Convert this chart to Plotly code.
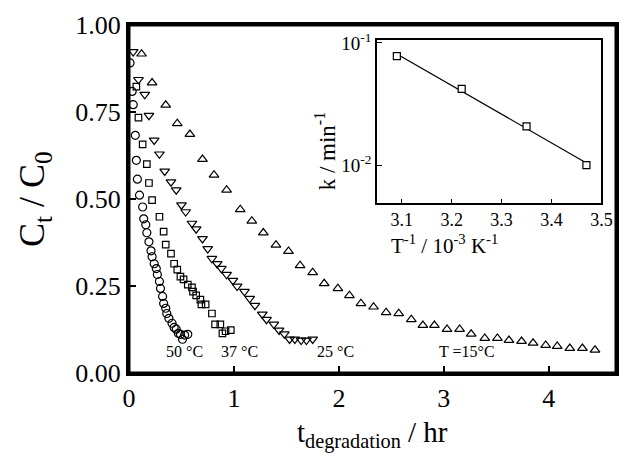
import numpy as np
import plotly.graph_objects as go

# ---- main panel data: C_t/C_0 vs t (hr) ----
t50 = [0.01, 0.03, 0.04, 0.06, 0.07, 0.08, 0.10, 0.13, 0.14, 0.16, 0.17, 0.19, 0.21, 0.22,
       0.24, 0.26, 0.27, 0.29, 0.30, 0.32, 0.33, 0.35, 0.36, 0.38, 0.41, 0.43, 0.45, 0.47,
       0.49, 0.51, 0.53, 0.56]
c50 = [0.891, 0.809, 0.771, 0.683, 0.611, 0.557, 0.511, 0.477, 0.443, 0.426, 0.403, 0.377,
       0.351, 0.334, 0.314, 0.300, 0.283, 0.263, 0.243, 0.220, 0.200, 0.186, 0.171, 0.157,
       0.143, 0.131, 0.126, 0.114, 0.111, 0.097, 0.109, 0.111]

t37 = [0.07, 0.09, 0.13, 0.17, 0.19, 0.22, 0.29, 0.33, 0.35, 0.40, 0.43, 0.46, 0.49, 0.52,
       0.56, 0.60, 0.61, 0.64, 0.68, 0.69, 0.73, 0.79, 0.82, 0.87, 0.89, 0.92, 0.97]
c37 = [0.823, 0.734, 0.657, 0.600, 0.546, 0.497, 0.449, 0.406, 0.369, 0.343, 0.314, 0.297,
       0.277, 0.269, 0.254, 0.246, 0.234, 0.223, 0.211, 0.197, 0.197, 0.171, 0.140, 0.140,
       0.114, 0.120, 0.123]

t25 = [0.04, 0.09, 0.15, 0.19, 0.24, 0.29, 0.34, 0.40, 0.45, 0.50, 0.54, 0.60, 0.64, 0.70,
       0.75, 0.79, 0.84, 0.88, 0.93, 0.99, 1.03, 1.10, 1.15, 1.20, 1.27, 1.31, 1.38, 1.43,
       1.48, 1.53, 1.58, 1.64, 1.69, 1.75]
c25 = [0.923, 0.843, 0.800, 0.740, 0.669, 0.629, 0.580, 0.549, 0.526, 0.483, 0.463, 0.430,
       0.414, 0.386, 0.357, 0.329, 0.314, 0.300, 0.283, 0.266, 0.249, 0.234, 0.214, 0.194,
       0.169, 0.154, 0.140, 0.123, 0.112, 0.097, 0.097, 0.094, 0.094, 0.097]

t15 = [0.12, 0.22, 0.35, 0.46, 0.58, 0.70, 0.81, 0.93, 1.06, 1.17, 1.28, 1.40, 1.52, 1.63,
       1.75, 1.86, 1.99, 2.10, 2.21, 2.33, 2.45, 2.57, 2.69, 2.80, 2.91, 3.03, 3.15, 3.26,
       3.39, 3.51, 3.62, 3.74, 3.85, 3.97, 4.08, 4.20, 4.32, 4.44]
c15 = [0.917, 0.834, 0.770, 0.717, 0.686, 0.614, 0.569, 0.526, 0.470, 0.437, 0.403, 0.368,
       0.350, 0.309, 0.289, 0.257, 0.243, 0.223, 0.200, 0.190, 0.174, 0.171, 0.154, 0.137,
       0.137, 0.126, 0.126, 0.112, 0.100, 0.100, 0.094, 0.091, 0.086, 0.080, 0.077, 0.071,
       0.071, 0.066]

x_ticks = [0, 1, 2, 3, 4]
y_ticks = [0.00, 0.25, 0.50, 0.75, 1.00]
X_RANGE = [0, 4.64]
Y_RANGE = [0, 1.0]

# ---- inset data: Arrhenius plot ----
inv_T = [3.09, 3.22, 3.35, 3.47]
k_rate = [0.078, 0.042, 0.0207, 0.0100]
inset_x_ticks = [3.1, 3.2, 3.3, 3.4, 3.5]
inset_y_ticks = [0.01, 0.1]
inset_y_labels = ["10<sup>-2</sup>", "10<sup>-1</sup>"]

labels = ["50 \u00b0C", "37 \u00b0C", "25 \u00b0C", "T =15\u00b0C"]
label_x = [0.53, 1.05, 1.97, 3.22]
label_y = [0.063, 0.063, 0.063, 0.063]

FONT = "Liberation Serif"

fig = go.Figure()

def open_marker(symbol, size):
    return dict(symbol=symbol, size=size, color="black", line=dict(width=1.2))

fig.add_trace(go.Scatter(x=t50, y=c50, mode="markers", marker=open_marker("circle-open", 8),
                         xaxis="x", yaxis="y", showlegend=False))
fig.add_trace(go.Scatter(x=t37, y=c37, mode="markers", marker=open_marker("square-open", 6.5),
                         xaxis="x", yaxis="y", showlegend=False))
fig.add_trace(go.Scatter(x=t25, y=c25, mode="markers",
                         marker=open_marker("triangle-down-open", 8.5),
                         xaxis="x", yaxis="y", showlegend=False))
fig.add_trace(go.Scatter(x=t15, y=c15, mode="markers",
                         marker=open_marker("triangle-up-open", 8.5),
                         xaxis="x", yaxis="y", showlegend=False))

# invisible trace on the top/right frame axes so they are drawn
fig.add_trace(go.Scatter(x=[t15[0]], y=[c15[0]], mode="markers", opacity=0,
                         hoverinfo="skip", xaxis="x3", yaxis="y3", showlegend=False))

# inset fit line (least squares in log space) and points
coef = np.polyfit(inv_T, np.log10(k_rate), 1)
fit_x = [inv_T[0], inv_T[-1]]
fit_y = [10 ** np.polyval(coef, v) for v in fit_x]
fig.add_trace(go.Scatter(x=fit_x, y=fit_y, mode="lines", line=dict(color="black", width=1.2),
                         xaxis="x2", yaxis="y2", showlegend=False))
fig.add_trace(go.Scatter(x=inv_T, y=k_rate, mode="markers",
                         marker=dict(symbol="square", size=7, color="white",
                                     line=dict(color="black", width=1.2)),
                         xaxis="x2", yaxis="y2", showlegend=False))

for txt, lx, ly in zip(labels, label_x, label_y):
    fig.add_annotation(x=lx, y=ly, xref="x", yref="y", text=txt, showarrow=False,
                       font=dict(family=FONT, size=16, color="black"))

# axis titles as annotations
fig.add_annotation(xref="paper", yref="paper", x=0.5, y=-0.117, yanchor="top",
                   text="t<sub>degradation</sub> / hr", showarrow=False,
                   font=dict(family=FONT, size=29, color="black"))
fig.add_annotation(xref="paper", yref="paper", x=-0.195, y=0.5, xanchor="center",
                   text="C<sub>t</sub> / C<sub>0</sub>", showarrow=False, textangle=-90,
                   font=dict(family=FONT, size=36, color="black"))
fig.add_annotation(xref="paper", yref="paper", x=0.403, y=0.757,
                   text="k / min<sup>-1</sup>", showarrow=False, textangle=-90,
                   font=dict(family=FONT, size=23, color="black"))
fig.add_annotation(xref="paper", yref="paper", x=0.762, y=0.368, yanchor="middle",
                   text="T<sup>-1</sup> / 10<sup>-3</sup> K<sup>-1</sup>", showarrow=False,
                   font=dict(family=FONT, size=21, color="black"))

# frame around the main plotting area
fig.add_shape(type="rect", xref="paper", yref="paper", x0=0, x1=1, y0=0, y1=1,
              line=dict(color="black", width=3), fillcolor="rgba(0,0,0,0)", layer="above")

axis_common = dict(showgrid=False, zeroline=False, mirror=True, linecolor="black",
                   ticks="inside", tickcolor="black", ticklabeloverflow="allow")

# page body has an 8 px margin, so the figure is 8 px smaller than the window
fig.update_layout(
    width=622, height=463,
    margin=dict(l=121, r=3, t=15, b=98),
    paper_bgcolor="white", plot_bgcolor="white",
    font=dict(family=FONT, color="black"),
    xaxis=dict(axis_common, domain=[0, 1], range=X_RANGE, tickvals=x_ticks,
               ticktext=[str(v) for v in x_ticks], linewidth=3, ticklen=7, tickwidth=2,
               tickfont=dict(size=26, family=FONT)),
    yaxis=dict(axis_common, domain=[0, 1], range=Y_RANGE, tickvals=y_ticks,
               tickformat=".2f", linewidth=3, ticklen=7, tickwidth=2,
               tickfont=dict(size=26, family=FONT)),
    xaxis3=dict(overlaying="x", side="top", anchor="y", range=X_RANGE, showline=True,
                linewidth=3, linecolor="black", ticks="", showticklabels=False,
                showgrid=False, zeroline=False),
    yaxis3=dict(overlaying="y", side="right", anchor="x", range=Y_RANGE, showline=True,
                linewidth=3, linecolor="black", ticks="", showticklabels=False,
                showgrid=False, zeroline=False),
    xaxis2=dict(axis_common, domain=[0.509, 0.970], anchor="y2", range=[3.05, 3.5],
                tickvals=inset_x_ticks, ticktext=[f"{v:.1f}" for v in inset_x_ticks],
                linewidth=1.5, ticklen=4, tickwidth=1,
                tickfont=dict(size=18, family=FONT)),
    yaxis2=dict(axis_common, domain=[0.489, 0.957], anchor="x2", type="log",
                range=[-2.309, -0.976], tickvals=inset_y_ticks, ticktext=inset_y_labels,
                linewidth=1.5, ticklen=5, tickwidth=1,
                tickfont=dict(size=19, family=FONT)),
)

fig.write_html("out.html")
